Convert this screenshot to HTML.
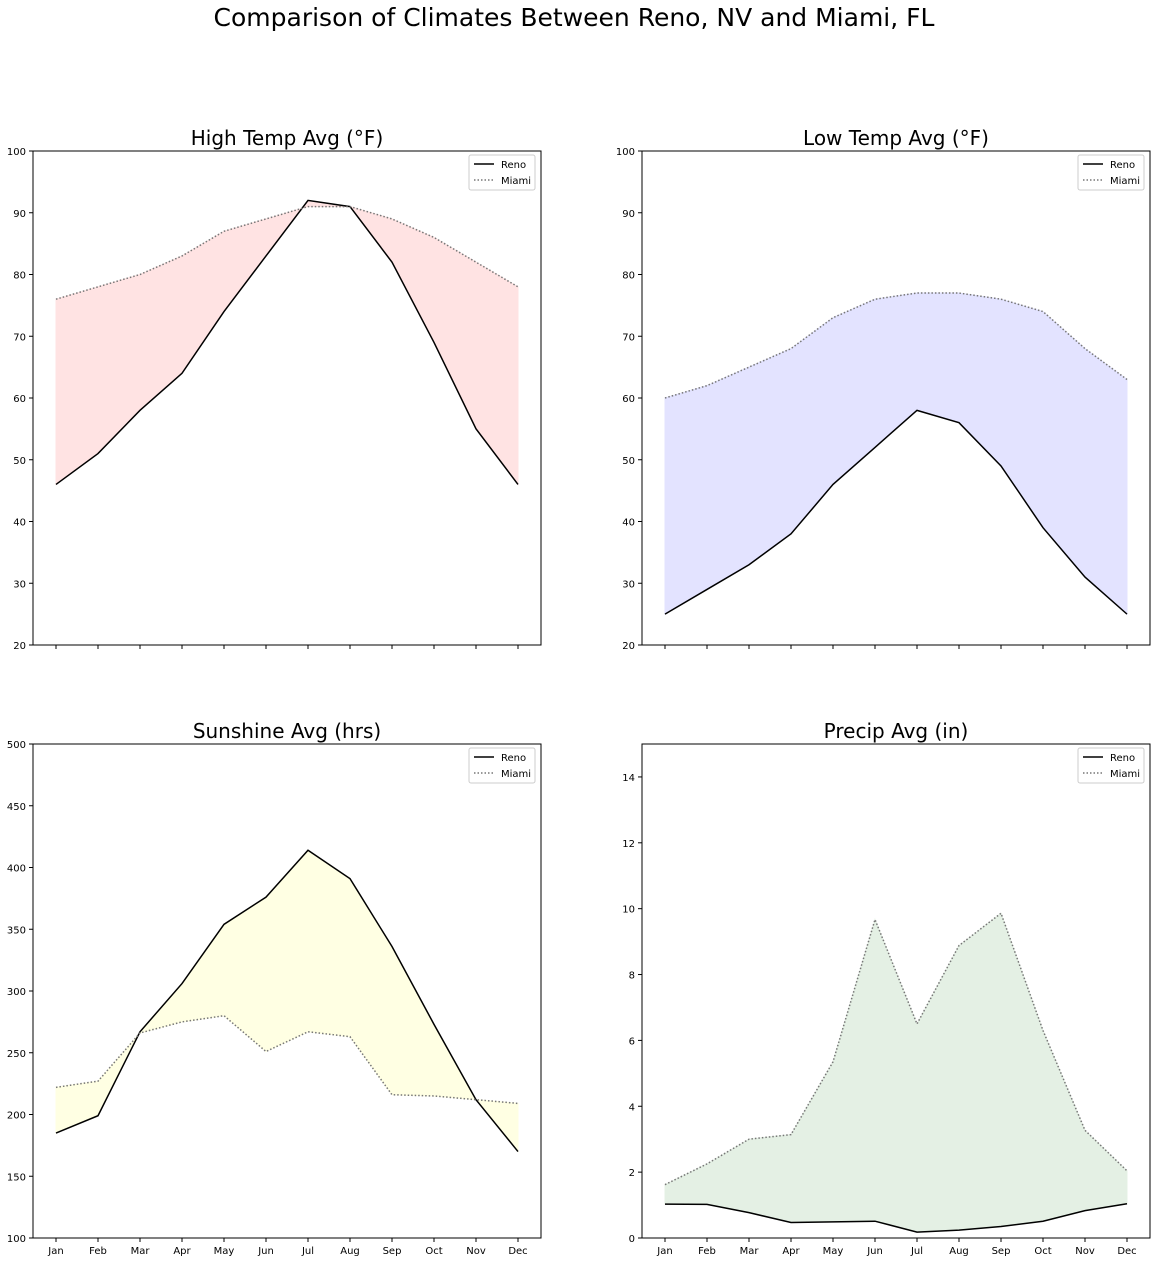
<!DOCTYPE html>
<html><head><meta charset="utf-8"><style>
body{margin:0;background:#fff;}
svg text{font-family:"DejaVu Sans","Liberation Sans",sans-serif;}
</style></head><body>
<svg id="fig" width="1159" height="1262" xmlns="http://www.w3.org/2000/svg">
<rect width="1159" height="1262" fill="#fff"/>
<text x="574" y="26" text-anchor="middle" font-size="25">Comparison of Climates Between Reno, NV and Miami, FL</text>
</svg>
<script>
const months = ["Jan","Feb","Mar","Apr","May","Jun","Jul","Aug","Sep","Oct","Nov","Dec"];
const highReno = [46,51,58,64,74,83,92,91,82,69,55,46];
const highMiami = [76,78,80,83,87,89,91,91,89,86,82,78];
const lowReno = [25,29,33,38,46,52,58,56,49,39,31,25];
const lowMiami = [60,62,65,68,73,76,77,77,76,74,68,63];
const sunReno = [185,199,267,306,354,376,414,391,336,273,212,170];
const sunMiami = [222,227,266,275,280,251,267,263,216,215,212,209];
const precipReno = [1.03,1.02,0.77,0.47,0.49,0.51,0.18,0.24,0.35,0.51,0.83,1.04];
const precipMiami = [1.62,2.25,3.00,3.14,5.35,9.67,6.5,8.88,9.86,6.3,3.27,2.04];
const tempTicks = [20,30,40,50,60,70,80,90,100];
const sunTicks = [100,150,200,250,300,350,400,450,500];
const precipTicks = [0,2,4,6,8,10,12,14];

const NS="http://www.w3.org/2000/svg";
const svg=document.getElementById('fig');
function mk(tag,attrs,parent){const e=document.createElementNS(NS,tag);for(const k in attrs)e.setAttribute(k,attrs[k]);(parent||svg).appendChild(e);return e;}

function panel(cfg){
  const g=mk('g',{});
  
  
  const L=cfg.x,T=cfg.y,W=508,H=494;
  const xs=i=>L+23+i*(W-46)/11;
  const ys=v=>T+H-(v-cfg.min)/(cfg.max-cfg.min)*H;
  let d='M'+cfg.a.map((v,i)=>xs(i)+','+ys(v)).join('L');
  for(let i=11;i>=0;i--) d+='L'+xs(i)+','+ys(cfg.b[i]);
  const f=mk('path',{d:d+'Z',fill:cfg.fill,stroke:cfg.fill},g);
  
  
  const lr=mk('polyline',{points:cfg.a.map((v,i)=>xs(i)+','+ys(v)).join(' '),fill:'none',stroke:'#000','stroke-width':1.5},g);
  
  
  const lm=mk('polyline',{points:cfg.b.map((v,i)=>xs(i)+','+ys(v)).join(' '),fill:'none',stroke:'#777','stroke-width':1.5,'stroke-dasharray':'1.5,2'},g);
  
  
  mk('rect',{x:L,y:T,width:W,height:H,fill:'none',stroke:'#000','stroke-width':1},g);
  cfg.ticks.forEach(t=>{
    mk('line',{x1:L-4,x2:L,y1:ys(t),y2:ys(t),stroke:'#000'},g);
    const tx=mk('text',{x:L-7,y:ys(t)+4,'text-anchor':'end','font-size':10},g);
    tx.textContent=t;
    
    
  });
  months.forEach((m,i)=>{
    mk('line',{x1:xs(i),x2:xs(i),y1:T+H,y2:T+H+4,stroke:'#000'},g);
    if(cfg.labels){
      const tx=mk('text',{x:xs(i),y:T+H+16,'text-anchor':'middle','font-size':10},g);
      tx.textContent=m;
      
      
    }
  });
  const tt=mk('text',{x:L+W/2,y:T-6,'text-anchor':'middle','font-size':20},g);
  tt.textContent=cfg.title;
  
  
  const lg=mk('g',{},g);
  
  
  mk('rect',{x:L+W-72,y:T+4,width:66,height:35,rx:2,fill:'#fff',stroke:'#ccc'},lg);
  mk('line',{x1:L+W-67,x2:L+W-47,y1:T+13,y2:T+13,stroke:'#000','stroke-width':1.5},lg);
  mk('line',{x1:L+W-67,x2:L+W-47,y1:T+29,y2:T+29,stroke:'#777','stroke-width':1.5,'stroke-dasharray':'1.5,2'},lg);
  const t1=mk('text',{x:L+W-40,y:T+17,'font-size':10},lg);t1.textContent='Reno';
  const t2=mk('text',{x:L+W-40,y:T+33,'font-size':10},lg);t2.textContent='Miami';
}
panel({name:'high-temp-panel',x:33,y:151,min:20,max:100,ticks:tempTicks,a:highReno,b:highMiami,fill:'#ffe3e3',title:'High Temp Avg (°F)',labels:false});
panel({name:'low-temp-panel',x:642,y:151,min:20,max:100,ticks:tempTicks,a:lowReno,b:lowMiami,fill:'#e3e3ff',title:'Low Temp Avg (°F)',labels:false});
panel({name:'sunshine-panel',x:33,y:744,min:100,max:500,ticks:sunTicks,a:sunReno,b:sunMiami,fill:'#ffffe3',title:'Sunshine Avg (hrs)',labels:true});
panel({name:'precip-panel',x:642,y:744,min:0,max:15,ticks:precipTicks,a:precipReno,b:precipMiami,fill:'#e4f0e4',title:'Precip Avg (in)',labels:true});
</script>
</body></html>
